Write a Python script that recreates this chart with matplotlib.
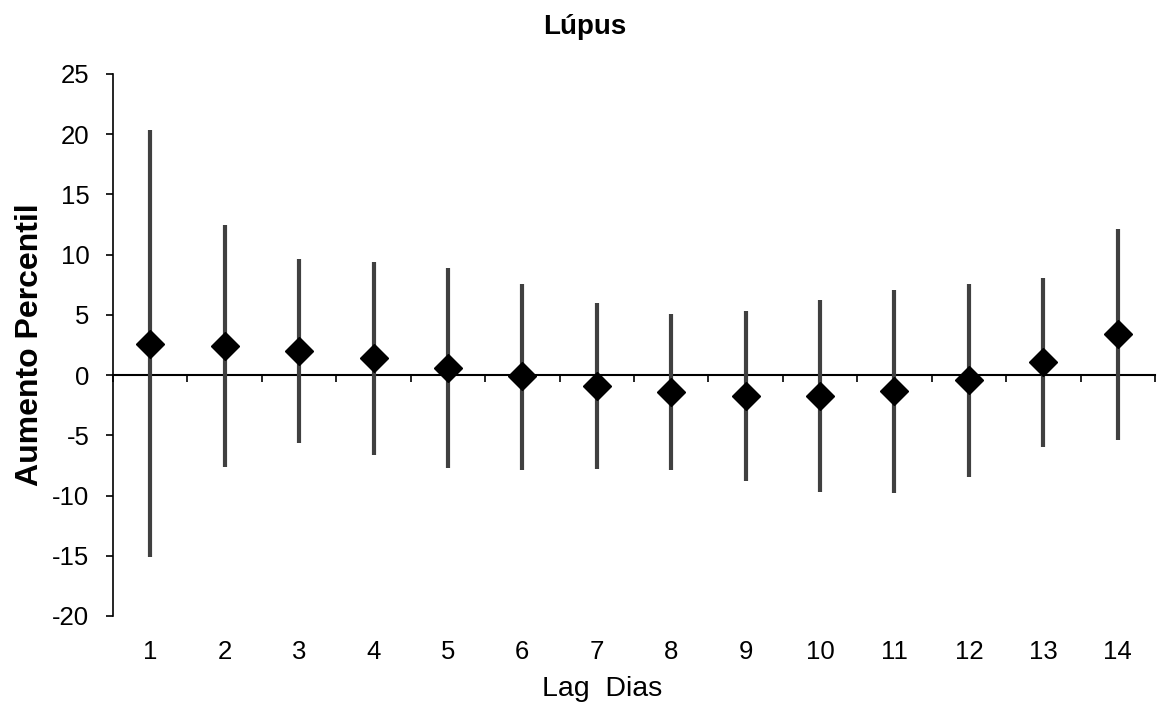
import numpy as np
import matplotlib.pyplot as plt

plt.rcParams['font.family'] = ['Liberation Sans', 'DejaVu Sans']
plt.rcParams['axes.unicode_minus'] = False

lags = list(range(1, 15))
estimativa = [2.55, 2.45, 2.0, 1.4, 0.6, -0.1, -0.9, -1.4, -1.7, -1.7, -1.35, -0.4, 1.1, 3.4]
ic_sup = [20.35, 12.5, 9.65, 9.4, 8.9, 7.6, 6.0, 5.05, 5.3, 6.2, 7.1, 7.6, 8.1, 12.1]
ic_inf = [-15.1, -7.6, -5.6, -6.6, -7.7, -7.9, -7.8, -7.9, -8.8, -9.7, -9.8, -8.5, -6.0, -5.4]

est = np.array(estimativa)
erro = [est - np.array(ic_inf), np.array(ic_sup) - est]

fig = plt.figure(figsize=(11.58, 7.06), dpi=100)
ax = fig.add_axes([0.0976, 0.1275, 0.8998, 0.7677])

ax.errorbar(lags, est, yerr=erro, fmt='D', color='black', ms=14.5,
            ecolor='#404040', elinewidth=3, capsize=0, zorder=3)

ax.set_xlim(0.5, 14.5)
ax.set_ylim(-20, 25)
ax.set_yticks(np.arange(-20, 26, 5))
ax.set_xticks(lags)
ax.tick_params(axis='x', length=0, labelsize=18.5, pad=17)
ax.tick_params(axis='y', direction='out', length=5, width=1.2, labelsize=18.5, pad=12)

for s in ['top', 'right', 'bottom']:
    ax.spines[s].set_visible(False)
ax.spines['left'].set_linewidth(1.2)

# eixo x na linha do zero, com marcas entre categorias
sec = ax.secondary_xaxis(20 / 45)
sec.set_xticks(np.arange(0.5, 15, 1))
sec.tick_params(direction='out', length=5, width=1.2, labelbottom=False, labeltop=False)
sec.spines['bottom'].set_linewidth(1.5)

ax.set_title('Lúpus', fontsize=20, fontweight='bold', pad=29, x=0.453)
ax.set_xlabel('Lag  Dias', fontsize=20.5, labelpad=9, x=0.469)
ax.set_ylabel('Aumento Percentil', fontsize=23, fontweight='bold', labelpad=5)

fig.savefig('out.png', dpi=100)
